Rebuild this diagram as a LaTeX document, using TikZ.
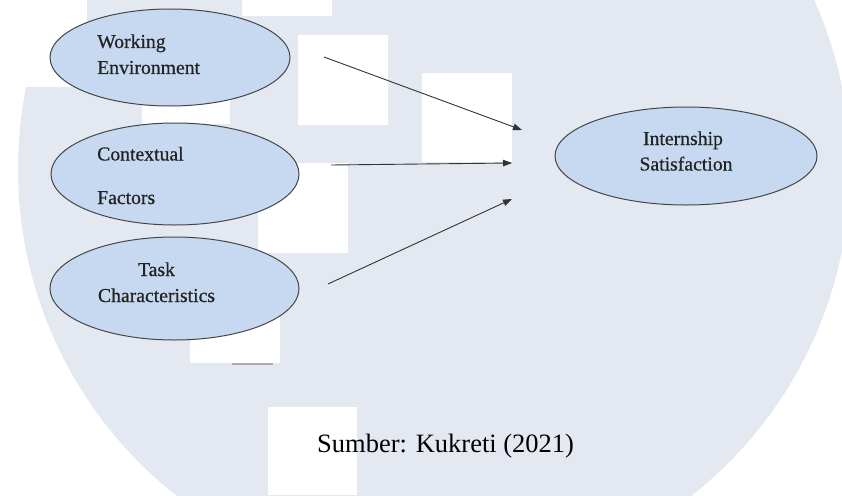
\documentclass[tikz,border=0pt]{standalone}
\usepackage{fontspec}
\setmainfont{Liberation Serif}
\newfontfamily\ellfont[FakeBold=0.6]{Liberation Serif}
\usetikzlibrary{shapes.geometric,arrows.meta}
\definecolor{wm}{RGB}{227,232,241}
\definecolor{ellfill}{RGB}{198,217,240}
\definecolor{ellline}{RGB}{70,70,70}
\definecolor{txt}{RGB}{35,35,35}
\begin{document}
\begin{tikzpicture}[x=1pt,y=-1pt,
  ell/.style={ellipse,draw=ellline,line width=1pt,fill=ellfill,inner sep=0pt},
  lbl/.style={anchor=base west,inner sep=0pt,text=txt,font=\ellfont\fontsize{19.7}{24}\selectfont},
  lblc/.style={anchor=base,inner sep=0pt,text=txt,font=\ellfont\fontsize{19.7}{24}\selectfont},
  conn/.style={draw=black!80,line width=0.9pt,-{Triangle[length=9pt,width=6.5pt]}},
  hole/.style={fill=white}]
\useasboundingbox (0,0) rectangle (842,495);
% watermark background
\begin{scope}
\clip (0,0) rectangle (842,495);
\fill[wm] (434,169) circle[radius=416pt];
\end{scope}
\fill[hole] (0,0) rectangle (87,87);
\fill[hole] (242,0) rectangle (332,16);
\fill[hole] (298,35) rectangle (388,125);
\fill[hole] (422,73) rectangle (512,162);
\fill[hole] (142,95) rectangle (230,124);
\fill[hole] (258,163) rectangle (348,253);
\fill[hole] (190,310) rectangle (280,363);
\fill[hole] (268,407) rectangle (357,495);
\draw[gray!65,line width=1.5pt] (232,364) -- (273,364);
% ellipses
\node[ell,minimum width=240pt,minimum height=97pt] (we) at (170,57.5) {};
\node[ell,minimum width=248pt,minimum height=102pt] (cf) at (175,174) {};
\node[ell,minimum width=249pt,minimum height=103pt] (tc) at (174.5,288.5) {};
\node[ell,minimum width=262pt,minimum height=98pt] (is) at (686,156) {};
% labels
\node[lbl] (we1) at (97,48) {Working};
\node[lbl] (we2) at (97,74) {Environment};
\node[lbl] (cf1) at (97,160.5) {Contextual};
\node[lbl] (cf2) at (97,204) {Factors};
\node[lblc] (tc1) at (156.5,276) {Task};
\node[lblc] (tc2) at (156.5,302) {Characteristics};
\node[lblc] (is1) at (683,145) {Internship};
\node[lblc] (is2) at (686,170.5) {Satisfaction};
% arrows
\coordinate (a1s) at (324,57);  \coordinate (a1e) at (522,130);
\coordinate (a2s) at (331,165); \coordinate (a2e) at (512,163);
\coordinate (a3s) at (328,284); \coordinate (a3e) at (512,199);
\draw[conn] (a1s) -- (a1e);
\draw[conn] (a2s) -- (a2e);
\draw[conn] (a3s) -- (a3e);
% source
\node[anchor=base west,inner sep=0pt,text=black,font=\fontsize{26.5}{30}\selectfont] (src) at (317,452.7) {Sumber: Kukreti (2021)};
\end{tikzpicture}
\end{document}
